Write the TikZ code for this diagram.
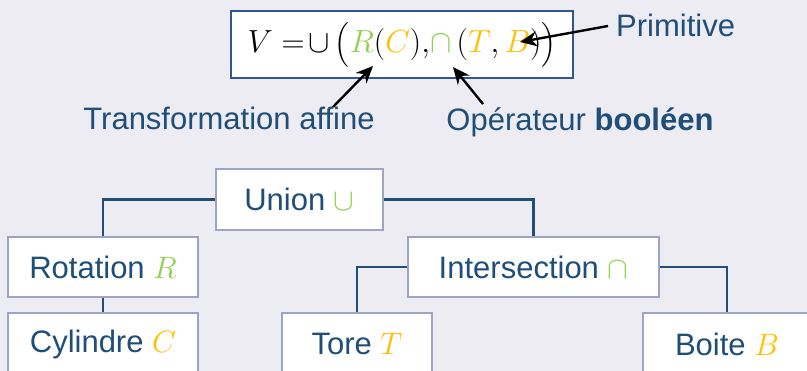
\RequirePackage{fix-cm}
\documentclass[tikz,border=0pt]{standalone}
\usepackage{amsmath}
\usepackage{fontspec}
\setmainfont{Liberation Sans}
\usetikzlibrary{arrows.meta}

\definecolor{bgc}{RGB}{237,236,243}
\definecolor{navy}{RGB}{31,78,121}
\definecolor{boxline}{RGB}{47,85,151}
\definecolor{treeline}{RGB}{160,164,196}
\definecolor{grn}{RGB}{146,208,80}
\definecolor{org}{RGB}{255,192,0}

\tikzset{
  treebox/.style={draw=treeline, line width=1.2pt, fill=white, inner sep=0pt,
    text=navy, font=\fontsize{31}{36}\selectfont},
  link/.style={draw=navy, line width=2.6pt},
  label/.style={text=navy, font=\fontsize{31}{36}\selectfont, inner sep=0pt, anchor=base},
  pointer/.style={draw=black, line width=2.4pt, -{Stealth[length=17pt,width=15pt]}},
}

\begin{document}
\begin{tikzpicture}[x=1pt,y=-1pt]
  \useasboundingbox (0,0) rectangle (807,371);
  \clip (0,0) rectangle (807,371);
  \fill[bgc] (0,0) rectangle (807,371);

  % formula box and formula
  \node[draw=boxline, line width=1.2pt, fill=white, minimum width=342pt, minimum height=67pt,
        inner sep=0pt] (f) at (402,44.5) {};
  \node[inner sep=0pt, font=\fontsize{32}{40}\selectfont] (fx) at (f.center)
    {$V =\!\cup\, \bigl(\textcolor{grn}{R}(\textcolor{org}{C}),\!\textcolor{grn}{\cap}\,(\textcolor{org}{T},\textcolor{org}{B})\bigr)$};

  % annotations
  \node[label, anchor=base west] (prim) at (616,37) {Primitive};
  \node[label] (ta) at (229,130) {Transformation affine};
  \node[label] (ob) at (580,131) {Opérateur \textbf{booléen}};

  \coordinate (pS) at (608,26);
  \coordinate (pE) at (520,42);
  \coordinate (tS) at (333,107);
  \coordinate (tE) at (373,66);
  \coordinate (oS) at (483,104);
  \coordinate (oE) at (453,67);
  \draw[pointer] (pS) -- (pE);
  \draw[pointer] (tS) -- (tE);
  \draw[pointer] (oS) -- (oE);

  % tree
  \node[treebox, minimum width=167pt, minimum height=61pt] (u) at (299.5,199.5)
    {Union \textcolor{grn}{$\cup$}};
  \node[treebox, minimum width=190pt, minimum height=60pt] (r) at (103,267)
    {Rotation \textcolor{grn}{$R$}};
  \node[treebox, minimum width=251pt, minimum height=60pt] (i) at (533.5,267)
    {Intersection \textcolor{grn}{$\cap$}};
  \node[treebox, minimum width=190pt, minimum height=62pt] (c) at (103,344)
    {Cylindre \textcolor{org}{$C$}};
  \node[treebox, minimum width=150pt, minimum height=62pt] (t) at (357,344)
    {Tore \textcolor{org}{$T$}};
  \node[treebox, minimum width=168pt, minimum height=62pt] (b) at (727,344)
    {Boite \textcolor{org}{$B$}};

  \draw[link] (u.west) -| (r.north);
  \draw[link] (u.east) -| (i.north);
  \draw[link] (i.west) -| (t.north);
  \draw[link] (i.east) -| (b.north);
  \draw[link] (r.south) -- (c.north);
\end{tikzpicture}
\end{document}
